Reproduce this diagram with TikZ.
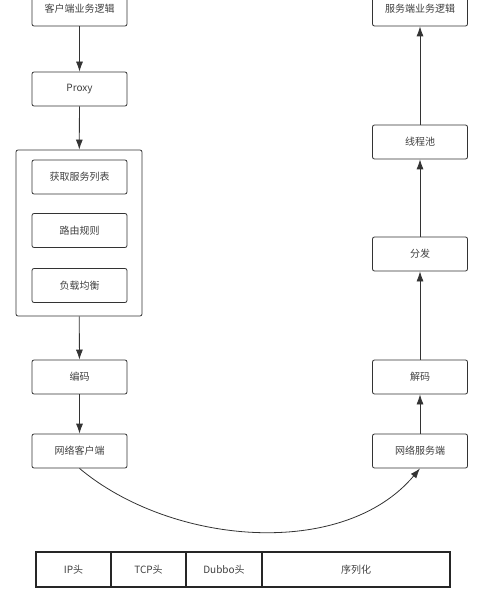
\documentclass[tikz,border=0pt]{standalone}
\usepackage{fontspec}
\setmainfont{Noto Sans CJK SC}
\usetikzlibrary{arrows.meta}
\tikzset{
  box/.style={draw=black!80,line width=0.8pt,rounded corners=2pt,minimum width=95pt,minimum height=34pt,inner sep=0pt,font=\fontsize{10}{12}\selectfont,text=black!75},
  flow/.style={draw=black!80,line width=0.8pt,-{Latex[length=10pt,width=7pt]}},
  cell/.style={draw=black!85,line width=1.2pt,minimum height=35pt,inner sep=0pt,font=\fontsize{10}{12}\selectfont,text=black!75}
}
\begin{document}
\begin{tikzpicture}[x=1pt,y=-1pt]
\useasboundingbox (0,0) rectangle (491,593);
% client side
\node[box] (cbiz) at (79.5,9) {客户端业务逻辑};
\node[box] (proxy) at (79.5,89) {Proxy};
\node[box,minimum width=126pt,minimum height=166pt] (cluster) at (79,233) {};
\node[box] (list) at (79.5,177) {获取服务列表};
\node[box] (route) at (79.5,230.5) {路由规则};
\node[box] (lb) at (79.5,285.5) {负载均衡};
\node[box] (enc) at (79.5,377) {编码};
\node[box] (nclient) at (79.5,451) {网络客户端};
% server side
\node[box] (sbiz) at (420,9) {服务端业务逻辑};
\node[box] (pool) at (420,142) {线程池};
\node[box] (disp) at (420,254) {分发};
\node[box] (dec) at (420,377) {解码};
\node[box] (nserver) at (420,451) {网络服务端};
% arrows
\draw[flow] (cbiz) -- (proxy);
\draw[flow] (proxy) -- (cluster);
\draw[flow] (cluster) -- (enc);
\draw[flow] (enc) -- (nclient);
\draw[flow] (nclient.south) to[out=-40,in=-130,looseness=0.9] (nserver.south);
\draw[flow] (nserver) -- (dec);
\draw[flow] (dec) -- (disp);
\draw[flow] (disp) -- (pool);
\draw[flow] (pool) -- (sbiz);
% packet
\node[cell,minimum width=75pt] (ip) at (73.5,569.5) {IP头};
\node[cell,minimum width=75pt] (tcp) at (148.5,569.5) {TCP头};
\node[cell,minimum width=76pt] (dubbo) at (224,569.5) {Dubbo头};
\node[cell,minimum width=188pt] (ser) at (356,569.5) {序列化};
\end{tikzpicture}
\end{document}
